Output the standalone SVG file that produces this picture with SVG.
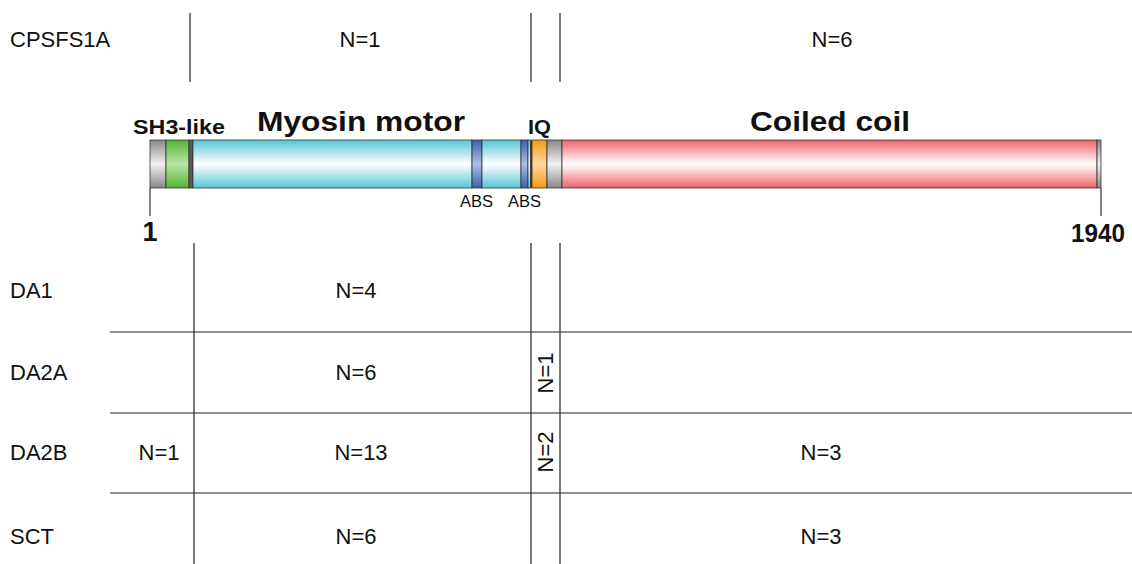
<svg xmlns="http://www.w3.org/2000/svg" width="1132" height="564" viewBox="0 0 1132 564">
<style>
.lbl{font-family:"Liberation Sans",Arial,sans-serif;font-size:22px;fill:#111}
.dom{font-family:"Liberation Sans",Arial,sans-serif;font-weight:bold;fill:#111}
.abs{font-family:"Liberation Sans",Arial,sans-serif;font-size:16px;fill:#111}
.grid line{stroke:#222;stroke-width:1.2}
.seg{stroke:#333;stroke-width:0.8}
</style>
<defs>
<linearGradient id="gCyan" x1="0" y1="0" x2="0" y2="1"><stop offset="0" stop-color="#58c6d6"/><stop offset="0.5" stop-color="#ffffff"/><stop offset="1" stop-color="#58c6d6"/></linearGradient>
<linearGradient id="gRed" x1="0" y1="0" x2="0" y2="1"><stop offset="0" stop-color="#ee626b"/><stop offset="0.5" stop-color="#ffffff"/><stop offset="1" stop-color="#ee626b"/></linearGradient>
<linearGradient id="gGreen" x1="0" y1="0" x2="0" y2="1"><stop offset="0" stop-color="#56b338"/><stop offset="0.5" stop-color="#b8e6a4"/><stop offset="1" stop-color="#56b338"/></linearGradient>
<linearGradient id="gGray" x1="0" y1="0" x2="0" y2="1"><stop offset="0" stop-color="#878787"/><stop offset="0.5" stop-color="#f2f2f2"/><stop offset="1" stop-color="#878787"/></linearGradient>
<linearGradient id="gBlue" x1="0" y1="0" x2="0" y2="1"><stop offset="0" stop-color="#3b5fa8"/><stop offset="0.5" stop-color="#a9bfe6"/><stop offset="1" stop-color="#3b5fa8"/></linearGradient>
<linearGradient id="gOrange" x1="0" y1="0" x2="0" y2="1"><stop offset="0" stop-color="#f59a12"/><stop offset="0.5" stop-color="#ffd9a0"/><stop offset="1" stop-color="#f59a12"/></linearGradient>
</defs>
<rect width="1132" height="564" fill="#ffffff"/>

<g id="protein">
<rect class="seg" x="150" y="140" width="16" height="48" fill="url(#gGray)"/>
<rect class="seg" x="166" y="140" width="23" height="48" fill="url(#gGreen)"/>
<rect class="seg" x="189" y="140" width="4" height="48" fill="#5a5a5a"/>
<rect class="seg" x="193" y="140" width="279" height="48" fill="url(#gCyan)"/>
<rect class="seg" x="472" y="140" width="10" height="48" fill="url(#gBlue)"/>
<rect class="seg" x="482" y="140" width="39" height="48" fill="url(#gCyan)"/>
<rect class="seg" x="521" y="140" width="7" height="48" fill="url(#gBlue)"/>
<rect class="seg" x="528" y="140" width="2.5" height="48" fill="url(#gCyan)"/>
<rect x="530.5" y="140" width="1.5" height="48" fill="#333"/>
<rect class="seg" x="532" y="140" width="15" height="48" fill="url(#gOrange)"/>
<rect class="seg" x="547" y="140" width="15" height="48" fill="url(#gGray)"/>
<rect class="seg" x="562" y="140" width="535" height="48" fill="url(#gRed)"/>
<rect class="seg" x="1097" y="140" width="4" height="48" fill="url(#gGray)"/>
<line x1="150" y1="188" x2="150" y2="216" stroke="#333" stroke-width="1.2"/>
<line x1="1101" y1="188" x2="1101" y2="216" stroke="#333" stroke-width="1.2"/>
<text class="dom" x="133" y="134" font-size="20" textLength="92" lengthAdjust="spacingAndGlyphs">SH3-like</text>
<text class="dom" x="257" y="131" font-size="27" textLength="208" lengthAdjust="spacingAndGlyphs">Myosin motor</text>
<text class="dom" x="528" y="134" font-size="20" textLength="23" lengthAdjust="spacingAndGlyphs">IQ</text>
<text class="dom" x="750" y="131" font-size="27" textLength="160" lengthAdjust="spacingAndGlyphs">Coiled coil</text>
<text class="abs" x="460" y="207" textLength="33" lengthAdjust="spacingAndGlyphs">ABS</text>
<text class="abs" x="508" y="207" textLength="33" lengthAdjust="spacingAndGlyphs">ABS</text>
<text class="dom" x="150" y="241" font-size="27" text-anchor="middle">1</text>
<text class="dom" x="1071" y="242" font-size="25" textLength="54" lengthAdjust="spacingAndGlyphs">1940</text>
</g>

<g id="connectors" class="grid">
<line x1="190" y1="13" x2="190" y2="82"/>
<line x1="531" y1="13" x2="531" y2="82"/>
<line x1="560" y1="13" x2="560" y2="82"/>
<line x1="194" y1="243" x2="194" y2="564"/>
<line x1="531" y1="243" x2="531" y2="564"/>
<line x1="560" y1="243" x2="560" y2="564"/>
<line x1="110" y1="332" x2="1132" y2="332"/>
<line x1="110" y1="413" x2="1132" y2="413"/>
<line x1="110" y1="493" x2="1132" y2="493"/>
</g>

<g id="row-cpsfs1a">
<text class="lbl" x="10" y="47">CPSFS1A</text>
<text class="lbl" x="360" y="47" text-anchor="middle">N=1</text>
<text class="lbl" x="832" y="47" text-anchor="middle">N=6</text>
</g>
<g id="row-da1">
<text class="lbl" x="10" y="298">DA1</text>
<text class="lbl" x="356" y="298" text-anchor="middle">N=4</text>
</g>
<g id="row-da2a">
<text class="lbl" x="10" y="380">DA2A</text>
<text class="lbl" x="356" y="380" text-anchor="middle">N=6</text>
<text class="lbl" transform="translate(553,373) rotate(-90)" text-anchor="middle">N=1</text>
</g>
<g id="row-da2b">
<text class="lbl" x="10" y="460">DA2B</text>
<text class="lbl" x="159" y="460" text-anchor="middle">N=1</text>
<text class="lbl" x="361" y="460" text-anchor="middle">N=13</text>
<text class="lbl" transform="translate(553,452) rotate(-90)" text-anchor="middle">N=2</text>
<text class="lbl" x="821" y="460" text-anchor="middle">N=3</text>
</g>
<g id="row-sct">
<text class="lbl" x="10" y="544">SCT</text>
<text class="lbl" x="356" y="544" text-anchor="middle">N=6</text>
<text class="lbl" x="821" y="544" text-anchor="middle">N=3</text>
</g>
</svg>
